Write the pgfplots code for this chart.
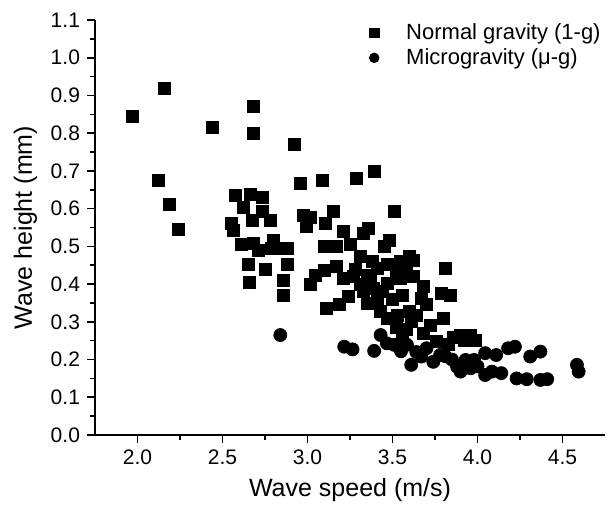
\documentclass[border=0pt]{standalone}
\usepackage{fontspec}
\setmainfont{Liberation Sans}
\usepackage{pgfplots}
\pgfplotsset{compat=1.18}

\pgfplotstableread{
x y
1.97 0.845
2.16 0.920
2.12 0.675
2.19 0.610
2.24 0.545
2.44 0.815
2.68 0.870
2.68 0.800
2.92 0.770
2.575 0.636
2.663 0.639
2.732 0.630
2.62 0.603
2.732 0.594
2.673 0.568
2.78 0.570
2.555 0.562
2.565 0.543
2.614 0.506
2.682 0.508
2.712 0.490
2.80 0.517
2.79 0.495
2.879 0.495
2.84 0.495
2.653 0.453
2.751 0.439
2.879 0.451
2.659 0.404
2.859 0.411
2.859 0.371
2.961 0.667
3.085 0.676
3.285 0.680
3.392 0.698
2.973 0.583
3.016 0.577
3.153 0.594
2.992 0.554
3.104 0.561
3.21 0.539
3.33 0.535
3.36 0.548
3.51 0.594
3.48 0.517
3.45 0.499
3.10 0.499
3.17 0.499
3.25 0.504
3.31 0.473
3.60 0.473
3.045 0.424
3.016 0.398
3.10 0.437
3.17 0.446
3.21 0.415
3.27 0.420
3.35 0.424
3.41 0.442
3.47 0.451
3.545 0.459
3.62 0.464
3.31 0.398
3.39 0.389
3.47 0.402
3.545 0.415
3.24 0.367
3.19 0.345
3.11 0.336
3.35 0.349
3.41 0.362
3.43 0.327
3.47 0.309
3.53 0.318
3.60 0.327
3.64 0.318
3.68 0.393
3.67 0.362
3.70 0.345
3.81 0.442
3.79 0.375
3.84 0.371
3.80 0.309
3.61 0.300
3.58 0.280
3.52 0.285
3.56 0.255
3.68 0.270
3.72 0.290
3.76 0.247
3.83 0.240
3.86 0.260
3.90 0.265
3.96 0.265
3.92 0.250
3.99 0.250
3.33 0.380
3.37 0.410
3.44 0.380
3.50 0.360
3.56 0.370
3.52 0.430
3.58 0.440
3.62 0.420
3.28 0.440
3.38 0.460
}\normalg

\pgfplotstableread{
x y
2.84 0.265
3.216 0.234
3.265 0.227
3.392 0.223
3.43 0.265
3.467 0.243
3.51 0.239
3.585 0.239
3.55 0.222
3.61 0.186
3.64 0.220
3.67 0.208
3.70 0.230
3.74 0.194
3.78 0.212
3.81 0.209
3.85 0.200
3.88 0.181
3.90 0.168
3.93 0.199
3.96 0.177
3.98 0.199
4.00 0.182
4.045 0.217
4.11 0.212
4.18 0.230
4.22 0.234
4.31 0.208
4.37 0.221
4.045 0.159
4.085 0.168
4.14 0.164
4.23 0.150
4.29 0.148
4.37 0.146
4.41 0.148
4.585 0.186
4.595 0.168
}\microg

\begin{document}
\begin{tikzpicture}
\begin{axis}[
    scale only axis,
    width=255pt, height=207.5pt,
    xmin=1.75, xmax=4.75,
    ymin=0, ymax=1.1,
    axis x line=bottom, axis y line=left,
    axis line style={-, line width=1pt},
    every tick/.style={black, line width=0.8pt},
    tick align=outside,
    major tick length=4pt, minor tick length=2.5pt,
    xtick={2.0,2.5,...,4.5},
    ytick={0,0.1,...,1.1},
    minor x tick num=1, minor y tick num=1,
    /pgf/number format/assume math mode=true,
    xticklabel style={/pgf/number format/.cd, fixed, fixed zerofill, precision=1},
    yticklabel style={/pgf/number format/.cd, fixed, fixed zerofill, precision=1},
    tick label style={font=\fontsize{10.5}{12}\selectfont},
    label style={font=\fontsize{12.5}{14}\selectfont},
    xlabel={Wave speed (m/s)},
    ylabel={Wave height (mm)},
    legend style={at={(rel axis cs:1,1)}, anchor=north east, xshift=3pt, yshift=2.5pt,
        draw=none, fill=none, font=\fontsize{11}{12}\selectfont, row sep=-1pt},
    legend cell align=left,
    legend image code/.code={\path[draw=none, fill=none] (-2pt,0pt) -- (14pt,0pt);
        \draw[#1, mark size=2.4pt] plot coordinates {(0pt,0pt)};},
]
\coordinate (O) at (rel axis cs:0,0);
\addplot[only marks, mark=square*, mark size=3pt, black] table {\normalg};
\addplot[only marks, mark=*, mark size=3.25pt, black] table {\microg};
\legend{Normal gravity (1-g), Microgravity (μ-g)}
\end{axis}
\pgfresetboundingbox
\path[use as bounding box] (O) ++(-47.5pt,-38pt) rectangle ++(304pt,255.5pt);
\end{tikzpicture}
\end{document}
